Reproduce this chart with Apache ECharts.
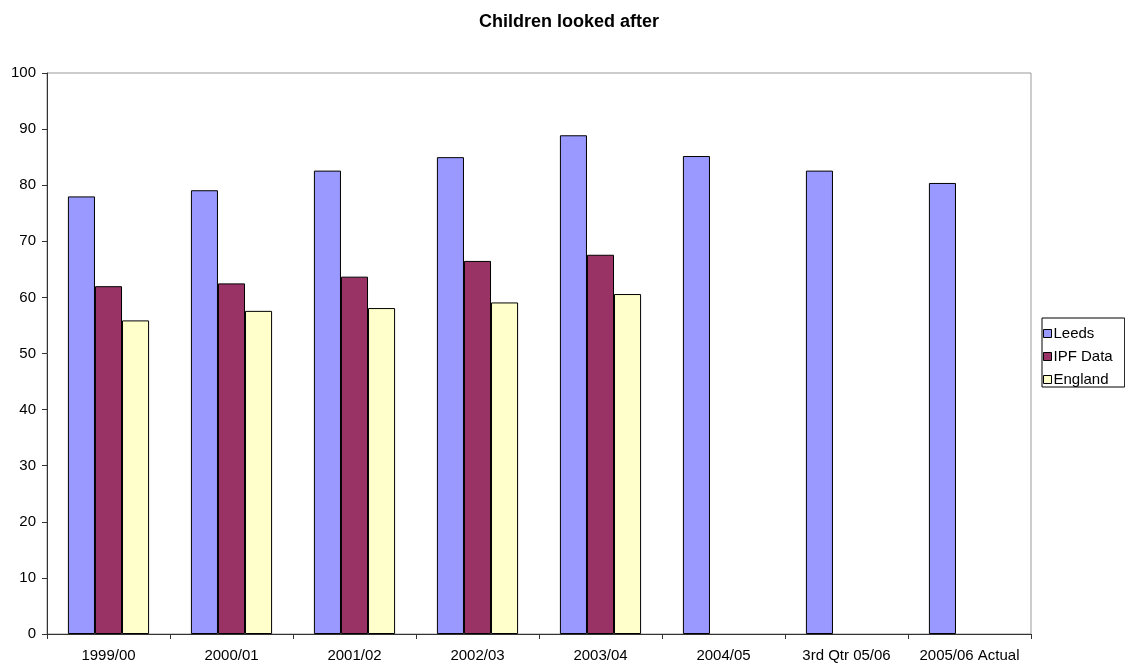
<!DOCTYPE html>
<html>
<head>
<meta charset="utf-8">
<script src="https://cdn.jsdelivr.net/npm/echarts@6/dist/echarts.min.js"></script>
<style>
  html, body { margin: 0; padding: 0; background: #fff; }
  #chart { width: 1125px; height: 663px; }
</style>
</head>
<body>
<div id="chart"></div>
<script>
// Children looked after: Leeds compared with IPF data and England
const categories = ['1999/00', '2000/01', '2001/02', '2002/03', '2003/04', '2004/05', '3rd Qtr 05/06', '2005/06 Actual'];
const leeds   = [78.0, 79.1, 82.6, 85.0, 88.9, 85.2, 82.6, 80.4];
const ipfData = [62.0, 62.5, 63.7, 66.5, 67.6, null, null, null];
const england = [55.9, 57.6, 58.1, 59.1, 60.6, null, null, null];

const FONT = 'Liberation Sans, Arial, sans-serif';

const chart = echarts.init(document.getElementById('chart'), null, { renderer: 'canvas' });

function barSeries(name, data, color) {
  return {
    name: name,
    type: 'bar',
    data: data,
    barGap: '0%',
    barCategoryGap: '34%',
    itemStyle: { color: color, borderColor: '#000', borderWidth: 1 },
    animation: false
  };
}

chart.setOption({
  backgroundColor: '#fff',
  title: {
    text: 'Children looked after',
    left: 564,
    textAlign: 'center',
    top: 8,
    textStyle: { fontFamily: FONT, fontSize: 18, fontWeight: 'bold', color: '#000' }
  },
  legend: {
    orient: 'vertical',
    left: 1042,
    top: 318,
    padding: [8, 12, 0, 1],
    itemGap: 8,
    itemWidth: 8,
    itemHeight: 8,
    borderColor: '#000',
    borderWidth: 1,
    icon: 'rect',
    itemStyle: { borderColor: '#000', borderWidth: 1 },
    textStyle: { fontFamily: FONT, fontSize: 15, lineHeight: 15, color: '#000', padding: [0, 0, 0, -3] },
    data: ['Leeds', 'IPF Data', 'England']
  },
  grid: {
    left: 47,
    right: 94,
    top: 73,
    bottom: 29,
    show: true,
    borderColor: '#999',
    borderWidth: 1,
    backgroundColor: '#fff'
  },
  xAxis: {
    type: 'category',
    data: categories,
    axisLine: { lineStyle: { color: '#333', width: 1 } },
    axisTick: { show: true, alignWithLabel: false, length: 5, lineStyle: { color: '#333' } },
    axisLabel: { fontFamily: FONT, fontSize: 15, color: '#000', margin: 14, interval: 0 },
    splitLine: { show: false }
  },
  yAxis: {
    type: 'value',
    min: 0,
    max: 100,
    interval: 10,
    axisLine: { show: true, lineStyle: { color: '#333', width: 1 } },
    axisTick: { show: true, length: 5, lineStyle: { color: '#333' } },
    axisLabel: { fontFamily: FONT, fontSize: 15, color: '#000', margin: 11 },
    splitLine: { show: false }
  },
  series: [
    barSeries('Leeds', leeds, '#9999FF'),
    barSeries('IPF Data', ipfData, '#993366'),
    barSeries('England', england, '#FFFFCC')
  ]
});
</script>
</body>
</html>
